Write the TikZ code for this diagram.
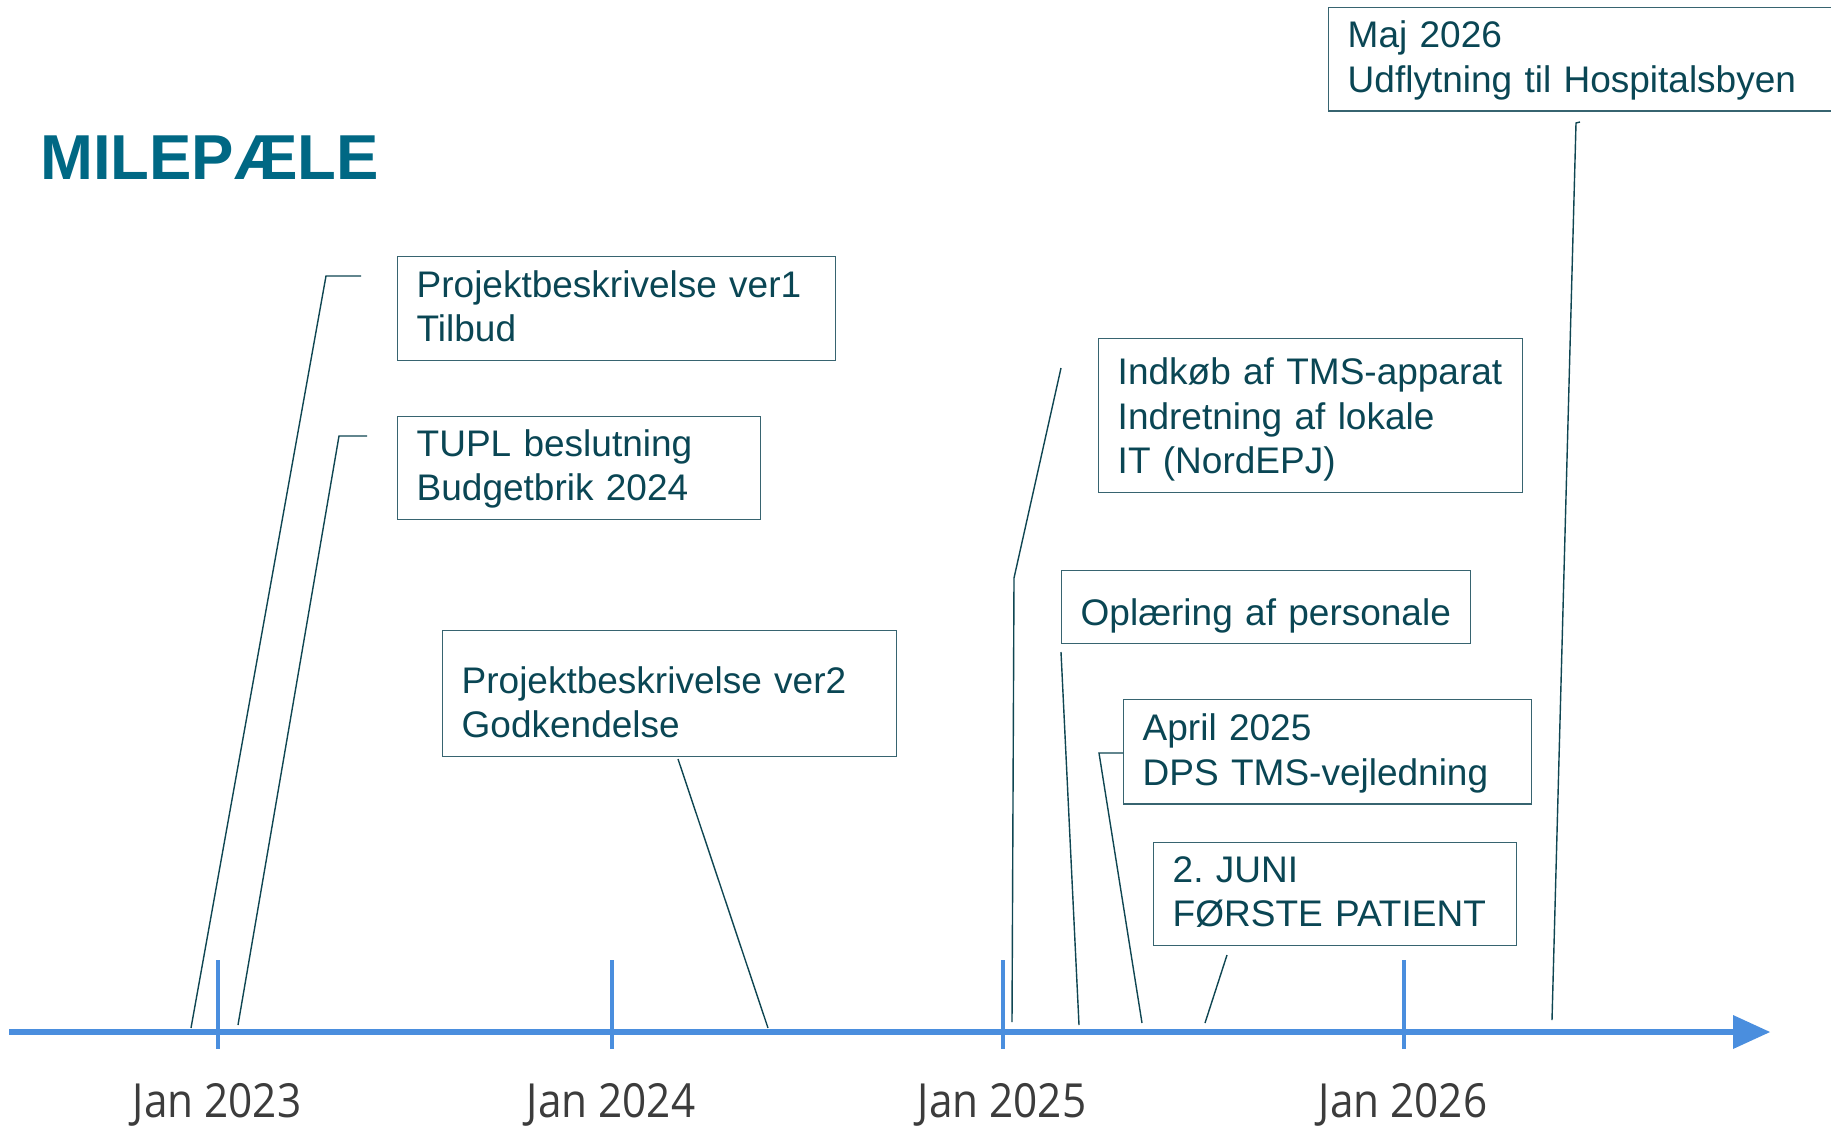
\documentclass[tikz,border=0pt]{standalone}
\usepackage{fontspec}
\setmainfont{Liberation Sans}
\newfontfamily\labfont{Open Sans}
\definecolor{titlec}{RGB}{0,104,132}
\definecolor{txtc}{RGB}{10,70,84}
\definecolor{boxc}{RGB}{55,100,112}
\definecolor{linec}{RGB}{15,70,82}
\definecolor{axisc}{RGB}{74,142,222}
\definecolor{labc}{RGB}{60,60,60}
\newcommand{\topsp}[1]{\rule{0pt}{#1pt}}
\newcommand{\botsp}{\rule[-19pt]{0pt}{19pt}}
\tikzset{
  mbox/.style={draw=boxc, line width=1.4pt, anchor=north west, align=left,
    inner xsep=19pt, inner ysep=0pt, text=txtc,
    font=\frenchspacing\fontsize{37}{44.3}\selectfont},
  conn/.style={draw=linec, line width=1.4pt},
  tick/.style={draw=axisc, line width=4pt},
  ticklab/.style={anchor=base, text=labc, font=\labfont\fontsize{47}{55}\selectfont, xscale=0.9, inner sep=0pt}
}
\begin{document}
\begin{tikzpicture}[x=1pt,y=-1pt]
\clip (0,0) rectangle (1831,1128);
\fill[white] (0,0) rectangle (1831,1128);

% title
\node[anchor=base west, inner sep=0pt, text=titlec, font=\bfseries\fontsize{63.5}{70}\selectfont] (title) at (40,179) {MILEPÆLE};

% axis
\draw[axisc, line width=6pt] (9,1032) -- (1736,1032);
\fill[axisc] (1733,1015) -- (1770,1032) -- (1733,1049) -- cycle;
\foreach \x in {218,612,1003,1404} \draw[tick] (\x,960) -- (\x,1049);

% tick labels
\node[ticklab] (l23) at (217,1117) {Jan 2023};
\node[ticklab] (l24) at (611,1117) {Jan 2024};
\node[ticklab] (l25) at (1002,1117) {Jan 2025};
\node[ticklab] (l26) at (1403,1117) {Jan 2026};

% boxes
\node[mbox, text width=400pt] (b1) at (397,256) {\topsp{40.7}Projektbeskrivelse ver1\\Tilbud\botsp};
\node[mbox, text width=325pt] (b2) at (397,416) {\topsp{39.7}TUPL beslutning\\Budgetbrik 2024\botsp};
\node[mbox, text width=416pt] (b3) at (442,630) {\topsp{62.7}Projektbeskrivelse ver2\\Godkendelse\botsp};
\node[mbox, text width=386pt] (b4) at (1098,338) {\topsp{46}Indkøb af TMS-apparat\\Indretning af lokale\\IT (NordEPJ)\botsp};
\node[mbox, text width=371pt] (b5) at (1061,570) {\topsp{55}Oplæring af personale\rule[-18pt]{0pt}{18pt}};
\node[mbox, text width=370pt] (b6) at (1123,699) {\topsp{41}April 2025\\DPS TMS-vejledning\botsp};
\node[mbox, text width=325pt] (b7) at (1153,842) {\topsp{39.7}2. JUNI\\FØRSTE PATIENT\botsp};
\node[mbox, text width=482pt] (b8) at (1328,7) {\topsp{40}Maj 2026\\Udflytning til Hospitalsbyen\botsp};

% connector ends
\coordinate (s1) at (361,276);  \coordinate (k1) at (326,276);  \coordinate (e1) at (191,1028);
\coordinate (s2) at (367,436);  \coordinate (k2) at (339,436);  \coordinate (e2) at (238,1025);
\coordinate (s3) at (678,759);  \coordinate (e3) at (768,1028);
\coordinate (s4) at (1061,368); \coordinate (k4) at (1014,578); \coordinate (e4) at (1012,1022);
\coordinate (s5) at (1061,652); \coordinate (e5) at (1079,1025);
\coordinate (k6) at (1099,753); \coordinate (e6) at (1142,1023);
\coordinate (s7) at (1227,955); \coordinate (e7) at (1205,1023);
\coordinate (s8) at (1580,122); \coordinate (k8) at (1576,123); \coordinate (e8) at (1552,1020);

% connectors
\draw[conn] (s1) -- (k1) -- (e1);
\draw[conn] (s2) -- (k2) -- (e2);
\draw[conn] (s3) -- (e3);
\draw[conn] (s4) -- (k4) -- (e4);
\draw[conn] (s5) -- (e5);
\draw[conn] (b6.west |- k6) -- (k6) -- (e6);
\draw[conn] (s7) -- (e7);
\draw[conn] (s8) -- (k8) -- (e8);
\end{tikzpicture}
\end{document}
